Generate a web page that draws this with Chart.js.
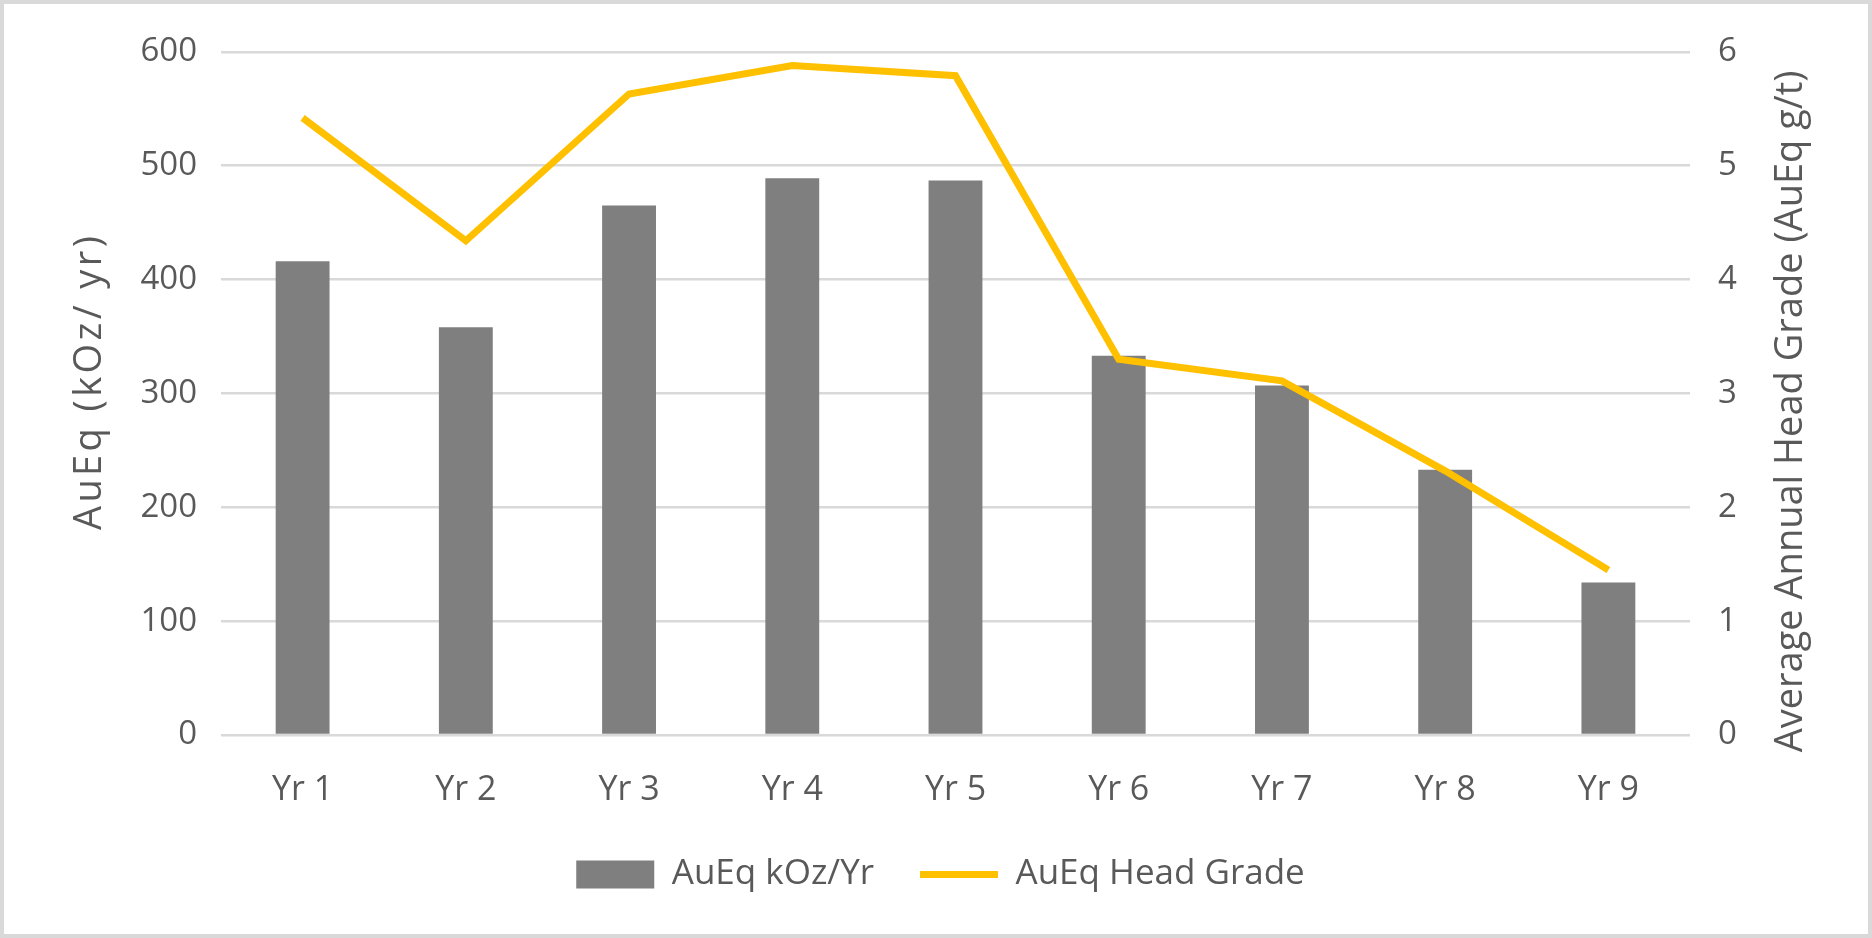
<!DOCTYPE html>
<html>
<head>
<meta charset="utf-8">
<script src="https://cdn.jsdelivr.net/npm/chart.js@4.4.1/dist/chart.umd.min.js"></script>
<style>
  html, body { margin: 0; padding: 0; background: #fff; }
  #wrap {
    width: 1872px; height: 938px; box-sizing: border-box;
    border: 4px solid #d9d9d9; background: #fff; position: relative;
  }
  canvas { display: block; }
</style>
</head>
<body>
<div id="wrap"><canvas id="chart" width="1864" height="930"></canvas></div>
<script>
// chart data
const years = ['Yr 1', 'Yr 2', 'Yr 3', 'Yr 4', 'Yr 5', 'Yr 6', 'Yr 7', 'Yr 8', 'Yr 9'];
const ozPerYear = [416, 358, 465, 489, 487, 333, 307, 233, 134];
const headGrade = [5.42, 4.34, 5.63, 5.88, 5.79, 3.30, 3.11, 2.32, 1.45];

const leftTitleText = 'AuEq (kOz/ yr)';
const rightTitleText = 'Average Annual Head Grade (AuEq g/t)';

const textColor = '#595959';
const gridColor = '#d9d9d9';
const font = '"Open Sans", sans-serif';

// both axis titles read bottom-to-top, drawn here so the right one isn't flipped
const axisTitles = {
    id: 'axisTitles',
    afterDraw(chart) {
        const ctx = chart.ctx;
        const area = chart.chartArea;
        const mid = (area.top + area.bottom) / 2;
        const draw = (text, x, y, size, spacing) => {
            ctx.save();
            ctx.fillStyle = textColor;
            ctx.font = size + 'px ' + font;
            ctx.letterSpacing = spacing + 'px';
            ctx.textAlign = 'center';
            ctx.textBaseline = 'middle';
            ctx.translate(x, y);
            ctx.rotate(-Math.PI / 2);
            ctx.fillText(text, 0, 0);
            ctx.restore();
        };
        draw(leftTitleText, chart.scales.y.left + 25, mid - 12, 38, 3.4);
        draw(rightTitleText, chart.scales.y1.right - 25, mid + 18, 38, 0);
    }
};

new Chart(document.getElementById('chart'), {
    type: 'bar',
    data: {
        labels: years,
        datasets: [
            {
                type: 'line',
                label: 'AuEq Head Grade',
                data: headGrade,
                yAxisID: 'y1',
                borderColor: '#FFC000',
                backgroundColor: '#FFC000',
                borderWidth: 7,
                pointRadius: 0,
                tension: 0,
                order: 0,
            },
            {
                label: 'AuEq kOz/Yr',
                data: ozPerYear,
                yAxisID: 'y',
                backgroundColor: '#7f7f7f',
                borderWidth: 0,
                barPercentage: 0.33,
                categoryPercentage: 1,
                order: 1,
            },
        ]
    },
    options: {
        responsive: false,
        animation: false,
        layout: { padding: { left: 61, right: 52, top: 30, bottom: 32 } },
        plugins: {
            legend: {
                position: 'bottom',
                reverse: true,
                labels: {
                    color: textColor,
                    font: { family: font, size: 35 },
                    usePointStyle: true,
                    pointStyleWidth: 78,
                    boxHeight: 28,
                    padding: 46,
                    generateLabels(chart) {
                        const items = Chart.defaults.plugins.legend.labels.generateLabels(chart);
                        items.forEach(it => {
                            it.pointStyle = chart.data.datasets[it.datasetIndex].type === 'line' ? 'line' : 'rect';
                        });
                        return items;
                    }
                }
            },
            tooltip: { enabled: false },
        },
        scales: {
            x: {
                grid: { display: false },
                border: { display: false },
                ticks: { color: textColor, font: { family: font, size: 34 }, padding: 27 },
                afterFit(scale) { scale.height = 76; },
            },
            y: {
                position: 'left',
                min: 0, max: 600,
                ticks: { stepSize: 100, color: textColor, font: { family: font, size: 33 }, padding: 24 },
                grid: { color: gridColor, lineWidth: 2.5, drawTicks: false },
                border: { display: false },
                afterFit(scale) { scale.width = 156; },
            },
            y1: {
                position: 'right',
                min: 0, max: 6,
                ticks: { stepSize: 1, color: textColor, font: { family: font, size: 33 }, padding: 28 },
                grid: { drawOnChartArea: false, drawTicks: false },
                border: { display: false },
                afterFit(scale) { scale.width = 126; },
            }
        }
    },
    plugins: [axisTitles]
});
</script>
</body>
</html>
